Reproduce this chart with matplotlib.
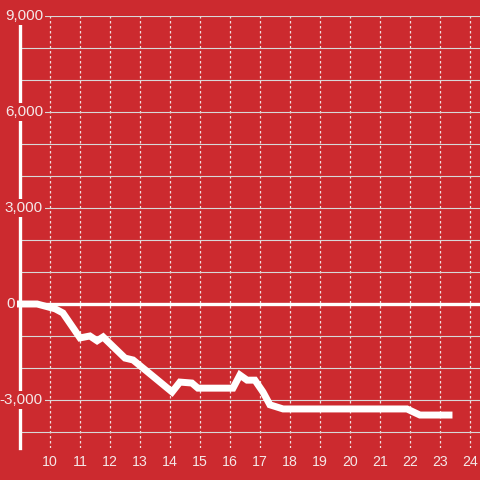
import matplotlib
matplotlib.use("Agg")
from matplotlib import pyplot as plt

# hour of day vs. running total
hours = [9.0, 9.57, 10.17, 10.43, 11.0, 11.33, 11.57, 11.77, 12.5, 12.77,
         13.5, 14.07, 14.33, 14.73, 14.93, 16.1, 16.33, 16.57, 16.83, 17.1,
         17.33, 17.77, 21.9, 22.33, 23.3]
values = [0, 0, -150, -280, -1060, -1000, -1150, -1030, -1690, -1750,
          -2310, -2750, -2440, -2470, -2630, -2630, -2220, -2380, -2380, -2750,
          -3150, -3280, -3280, -3470, -3470]

x_ticks = list(range(10, 25))
y_ticks = [-3000, 0, 3000, 6000, 9000]
y_grid = list(range(-4000, 10000, 1000))

bg = "#cc2a2f"
txt = "#f4e8e8"

plt.rcParams["font.family"] = ["Liberation Sans", "DejaVu Sans"]

fig = plt.figure(figsize=(4.8, 4.8), dpi=100, facecolor=bg)
ax = fig.add_axes([20 / 480, 1 - 448 / 480, 460 / 480, 432 / 480])
ax.set_facecolor(bg)
ax.set_xlim(9, 9 + 460 / 30)
ax.set_ylim(-4500, 9000)

for s in ax.spines.values():
    s.set_visible(False)

ax.set_axisbelow(True)
ax.set_yticks(y_grid)
ax.set_xticks(x_ticks)
ax.grid(axis="y", color="#d8d8d8", linewidth=0.8)
ax.grid(axis="x", color="#f0dede", linewidth=0.9, linestyle=(0, (2, 2)))
ax.tick_params(length=0, labelleft=False, labelsize=10.2, labelcolor=txt, pad=5)

# left axis bar and zero line
ax.axvline(9, color="white", linewidth=2.4, zorder=3, clip_on=False)
ax.axhline(0, xmin=-3 / 460, xmax=1, color="white", linewidth=2.4, zorder=3,
           clip_on=False)

ax.plot(hours, values, color="white", linewidth=5, zorder=4,
        solid_capstyle="projecting", solid_joinstyle="miter", clip_on=False)

for v in y_ticks:
    # the zero label sits left of the zero line, the others overlap the bar
    xpos = -5 / 460 if v == 0 else 23 / 460
    ax.text(xpos, v, f"{v:,}", transform=ax.get_yaxis_transform(),
            ha="right", va="center", fontsize=11, color=txt, zorder=6,
            bbox=dict(facecolor=bg, edgecolor="none", pad=1.5))

fig.savefig("out.png", dpi=100, facecolor=bg)
